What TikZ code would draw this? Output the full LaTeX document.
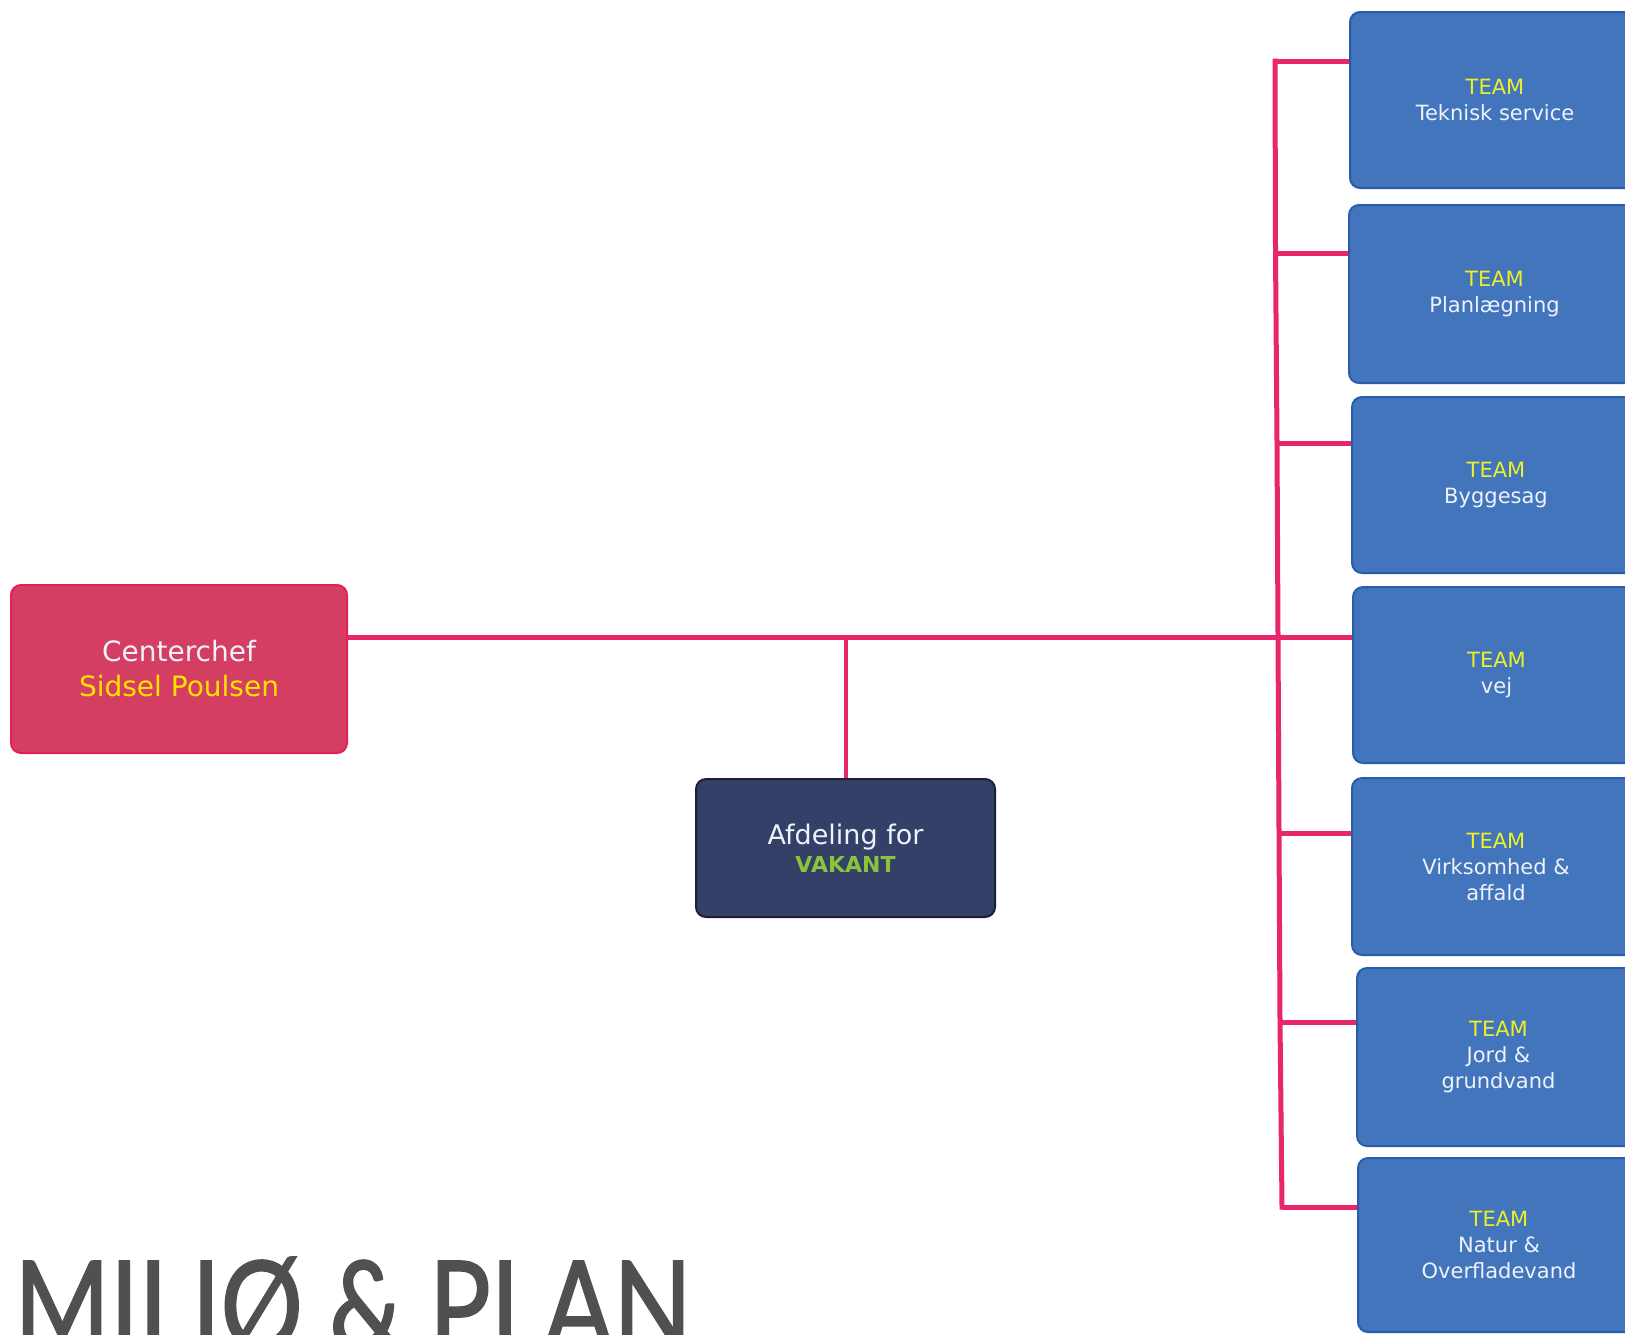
\documentclass[tikz,border=0pt]{standalone}
\usepackage{fontspec}
\setmainfont{DejaVu Sans}
\newfontfamily\titlefont[FakeBold=1.6]{Lato}
\definecolor{linepink}{RGB}{232,38,110}
\definecolor{ccfill}{RGB}{212,62,98}
\definecolor{ccdraw}{RGB}{226,34,84}
\definecolor{ylw}{RGB}{255,226,0}
\definecolor{teamylw}{RGB}{236,240,40}
\definecolor{affill}{RGB}{52,64,104}
\definecolor{afdraw}{RGB}{28,32,52}
\definecolor{vakgreen}{RGB}{140,195,60}
\definecolor{tmfill}{RGB}{66,117,188}
\definecolor{tmdraw}{RGB}{40,92,172}
\definecolor{offwhite}{RGB}{238,242,250}
\definecolor{titlegray}{RGB}{80,80,80}
\begin{document}
\begin{tikzpicture}[x=0.5pt,y=-0.5pt,
  boxbase/.style={rectangle, rounded corners=5pt, line width=1pt, inner sep=0pt, align=center},
  ccbox/.style={boxbase, fill=ccfill, draw=ccdraw, text=offwhite, font=\fontsize{14pt}{17.5pt}\selectfont},
  afbox/.style={boxbase, fill=affill, draw=afdraw, text=offwhite, font=\fontsize{13.5pt}{15pt}\selectfont},
  teambox/.style={boxbase, fill=tmfill, draw=tmdraw, text=offwhite, font=\fontsize{10.5pt}{13pt}\selectfont},
  conn/.style={draw=linepink, line width=2.5pt},
]
\useasboundingbox (0,0) rectangle (1625,1334);
\fill[white] (0,0) rectangle (1625,1334);

% Centerchef
\node[ccbox, minimum width=168pt, minimum height=84pt] (cc) at (179,669)
  {Centerchef\\\textcolor{ylw}{Sidsel Poulsen}};

% Afdeling
\node[afbox, minimum width=149.5pt, minimum height=69pt] (af) at (845.5,848)
  {Afdeling for\\[-1pt]{\fontsize{11pt}{13pt}\selectfont\bfseries\textcolor{vakgreen}{VAKANT}}};

% Team boxes
\node[teambox, minimum width=145pt, minimum height=88pt] (t1) at (1495,100)
  {\textcolor{teamylw}{TEAM}\\Teknisk service};
\node[teambox, minimum width=145.5pt, minimum height=89pt] (t2) at (1494.5,294)
  {\textcolor{teamylw}{TEAM}\\Planlægning};
\node[teambox, minimum width=144pt, minimum height=88pt] (t3) at (1496,485)
  {\textcolor{teamylw}{TEAM}\\Byggesag};
\node[teambox, minimum width=143.5pt, minimum height=88pt] (t4) at (1496.5,675)
  {\textcolor{teamylw}{TEAM}\\vej};
\node[teambox, minimum width=144pt, minimum height=88.5pt] (t5) at (1496,866.5)
  {\textcolor{teamylw}{TEAM}\\Virksomhed \&\\affald};
\node[teambox, minimum width=141.5pt, minimum height=89pt] (t6) at (1498.5,1057)
  {\textcolor{teamylw}{TEAM}\\Jord \&\\grundvand};
\node[teambox, minimum width=141pt, minimum height=87pt] (t7) at (1499,1245)
  {\textcolor{teamylw}{TEAM}\\Natur \&\\Overfladevand};

% Trunk branch points
\coordinate (b1) at (1275,61);
\coordinate (b2) at (1275.5,253);
\coordinate (b3) at (1277,443);
\coordinate (b4) at (1278,637);
\coordinate (b5) at (1279,833);
\coordinate (b6) at (1280,1022);
\coordinate (b7) at (1282,1207);

% Connectors
\draw[conn, line cap=rect] (b1) -- (b2) -- (b3) -- (b4) -- (b5) -- (b6) -- (b7);
\draw[conn] (cc.east |- b4) -- (b4 -| t4.west);
\draw[conn, line width=2pt] (af.north) -- (af.north |- b4);
\draw[conn] (b1) -- (b1 -| t1.west);
\draw[conn] (b2) -- (b2 -| t2.west);
\draw[conn] (b3) -- (b3 -| t3.west);
\draw[conn] (b5) -- (b5 -| t5.west);
\draw[conn] (b6) -- (b6 -| t6.west);
\draw[conn] (b7) -- (b7 -| t7.west);

% Title
\node[anchor=base west, inner sep=0pt, text=titlegray] (title) at (14,1350)
  {\scalebox{0.83}[1]{\titlefont\fontsize{62pt}{70pt}\selectfont MILIØ \& PLAN}};
\end{tikzpicture}
\end{document}
